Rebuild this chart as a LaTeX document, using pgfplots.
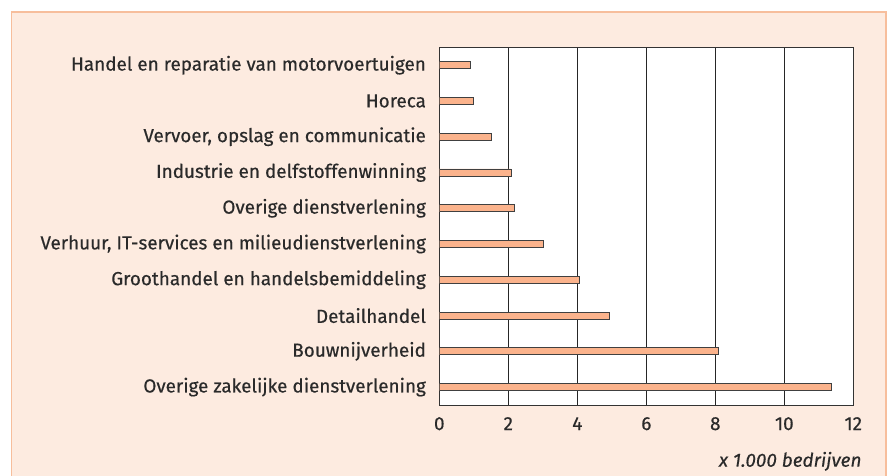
\documentclass[border=0pt]{standalone}
\usepackage{pgfplots}
\pgfplotsset{compat=1.18}
\usepackage{fontspec}
\setmainfont{Fira Sans}[FakeBold=0.4]
\definecolor{bg}{HTML}{FDEBE0}
\definecolor{frm}{HTML}{F7BE9C}
\definecolor{barfill}{HTML}{FBB38C}
\definecolor{txt}{HTML}{2A2A2A}
\begin{document}
\begin{tikzpicture}[x=1pt,y=1pt]
\useasboundingbox (0,0) rectangle (887,476);
\fill[bg] (11.5,-5) rectangle (886,464);
\draw[frm, line width=1.5pt] (11.5,-5) rectangle (886,464);
\begin{axis}[at={(439.3pt,71pt)}, anchor=south west, scale only axis,
  width=414pt, height=357.7pt,
  xbar, xmin=0, xmax=12, ymin=-0.5, ymax=9.5,
  ytick={0,...,9},
  yticklabels={Overige zakelijke dienstverlening,Bouwnijverheid,Detailhandel,Groothandel en handelsbemiddeling,{Verhuur, IT-services en milieudienstverlening},Overige dienstverlening,Industrie en delfstoffenwinning,{Vervoer, opslag en communicatie},Horeca,Handel en reparatie van motorvoertuigen},
  xtick={0,2,...,12},
  xmajorgrids, grid style={black!85, line width=0.8pt},
  axis line style={black!80, line width=0.8pt},
  axis background/.style={fill=white},
  bar width=7pt, major tick length=0pt,
  tick label style={font=\fontsize{18.9}{22}\selectfont, text=txt, inner sep=0pt},
  yticklabel style={anchor=east, xshift=-13.2pt},
  xticklabel style={anchor=north, yshift=-12pt},
  /pgf/number format/assume math mode=true,
  axis on top=false]
\addplot[fill=barfill, draw=black!75, line width=0.8pt] coordinates {(11.36,0) (8.09,1) (4.92,2) (4.07,3) (3.03,4) (2.18,5) (2.08,6) (1.51,7) (0.99,8) (0.91,9)};
\end{axis}
\node[anchor=base east, inner sep=0pt, text=txt, font=\fontsize{19}{22}\selectfont\itshape] at (861.7,9.3) {x 1.000 bedrijven};
\end{tikzpicture}
\end{document}
